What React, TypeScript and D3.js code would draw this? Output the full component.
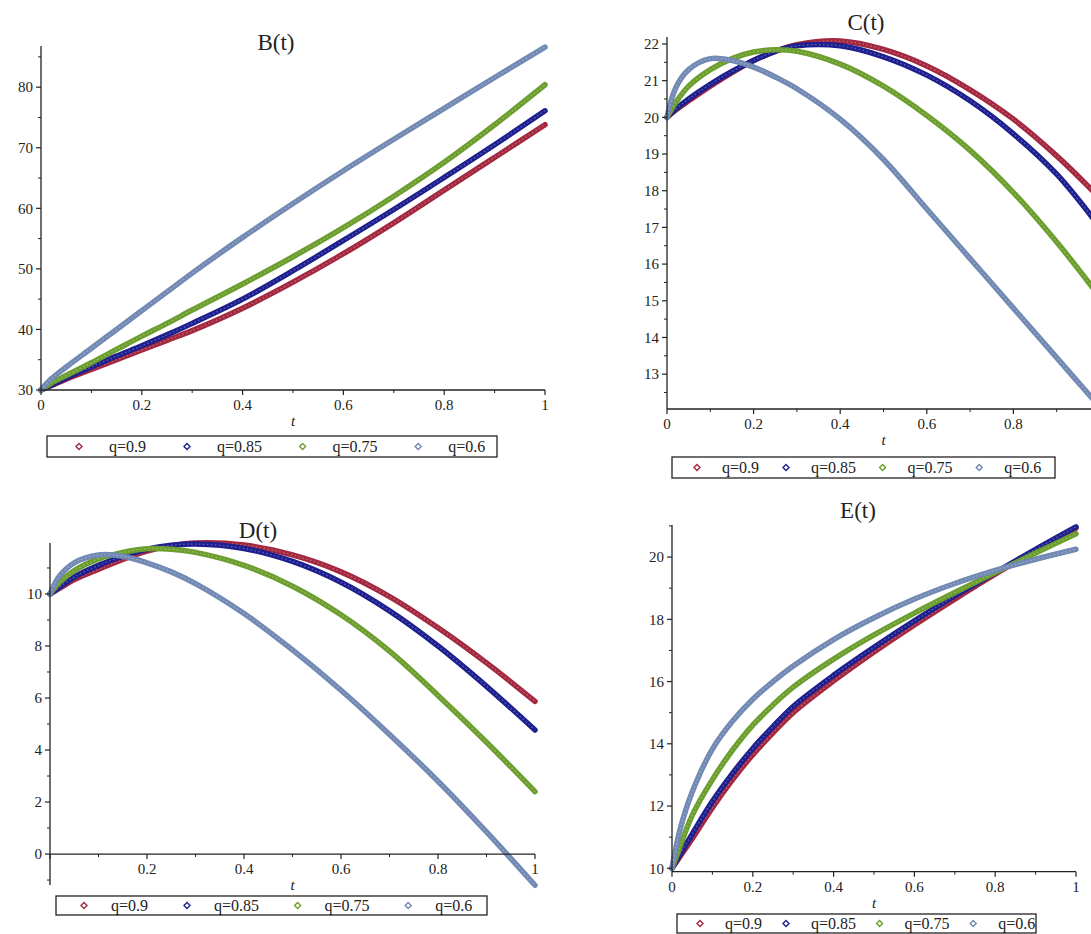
import * as d3 from "d3";

const tGrid = [0, 0.02, 0.05, 0.1, 0.15, 0.2, 0.25, 0.3, 0.4, 0.5, 0.6, 0.7, 0.8, 0.9, 1];
const qLabels = ["q=0.9", "q=0.85", "q=0.75", "q=0.6"];
const qColors = ["#a3283f", "#1d1f8f", "#6c9e2e", "#7189b3"];

// B(t)
const bQ90 = [30, 30.7, 31.8, 33.4, 35.0, 36.6, 38.2, 39.8, 43.5, 47.8, 52.5, 57.6, 63.0, 68.4, 73.8];
const bQ85 = [30, 30.8, 32.0, 33.8, 35.6, 37.3, 39.1, 41.0, 45.0, 49.7, 54.7, 59.8, 65.1, 70.5, 76.1];
const bQ75 = [30, 31.1, 32.4, 34.5, 36.7, 38.9, 41.0, 43.2, 47.5, 52.0, 56.8, 62.0, 67.6, 73.8, 80.4];
const bQ60 = [30, 31.8, 33.8, 36.9, 40.0, 43.1, 46.2, 49.3, 55.2, 60.8, 66.2, 71.4, 76.5, 81.6, 86.6];

// C(t)
const cQ90 = [20, 20.2, 20.45, 20.85, 21.22, 21.55, 21.8, 21.98, 22.08, 21.85, 21.4, 20.75, 19.95, 18.95, 17.8];
const cQ85 = [20, 20.22, 20.5, 20.9, 21.25, 21.55, 21.8, 21.95, 21.95, 21.65, 21.15, 20.45, 19.55, 18.45, 17.0];
const cQ75 = [20, 20.4, 20.85, 21.3, 21.6, 21.78, 21.84, 21.8, 21.45, 20.85, 20.05, 19.1, 17.95, 16.6, 15.1];
const cQ60 = [20, 20.8, 21.3, 21.6, 21.55, 21.37, 21.1, 20.78, 19.95, 18.85, 17.5, 16.15, 14.8, 13.45, 12.1];

// D(t)
const dQ90 = [10, 10.22, 10.55, 10.95, 11.33, 11.65, 11.85, 11.96, 11.88, 11.5, 10.85, 9.9, 8.7, 7.35, 5.87];
const dQ85 = [10, 10.27, 10.65, 11.1, 11.45, 11.72, 11.87, 11.92, 11.75, 11.25, 10.45, 9.35, 8.0, 6.45, 4.77];
const dQ75 = [10, 10.45, 10.9, 11.35, 11.6, 11.74, 11.72, 11.6, 11.1, 10.3, 9.2, 7.8, 6.1, 4.3, 2.4];
const dQ60 = [10, 10.7, 11.2, 11.5, 11.45, 11.2, 10.85, 10.4, 9.25, 7.85, 6.3, 4.6, 2.8, 0.85, -1.2];

// E(t)
const eQ90 = [10, 10.38, 10.95, 11.95, 12.85, 13.65, 14.35, 15.0, 16.02, 16.95, 17.82, 18.65, 19.45, 20.2, 20.93];
const eQ85 = [10, 10.45, 11.1, 12.15, 13.05, 13.85, 14.55, 15.2, 16.2, 17.1, 17.95, 18.75, 19.5, 20.25, 20.97];
const eQ75 = [10, 10.7, 11.7, 12.85, 13.8, 14.6, 15.25, 15.82, 16.72, 17.5, 18.2, 18.86, 19.5, 20.13, 20.75];
const eQ60 = [10, 11.25, 12.45, 13.83, 14.73, 15.43, 16.0, 16.5, 17.35, 18.05, 18.65, 19.15, 19.57, 19.93, 20.25];

const FONT = "'Liberation Serif', 'Times New Roman', serif";

const panels = [
  {
    title: "B(t)", series: [bQ90, bQ85, bQ75, bQ60],
    yDomain: [30, 86.8], xRange: [41, 545], yRange: [390, 46],
    yMajor: 10, yMinor: 5, xAxisAt: 30, skipZeroX: false,
    titleX: 276, titleY: 50,
    legend: { x: 47, y: 436, w: 450, h: 21, start: 79, mt: 30, tm: 40 },
  },
  {
    title: "C(t)", series: [cQ90, cQ85, cQ75, cQ60],
    yDomain: [12.05, 22.19], xRange: [667, 1100], yRange: [409, 37],
    yMajor: 1, yMinor: 0.5, xAxisAt: 12.05, skipZeroX: false,
    titleX: 866, titleY: 30,
    legend: { x: 672, y: 457, w: 383, h: 21, start: 697, mt: 25, tm: 26 },
  },
  {
    title: "D(t)", series: [dQ90, dQ85, dQ75, dQ60],
    yDomain: [-1.19, 11.96], xRange: [50, 535], yRange: [885, 543],
    yMajor: 2, yMinor: 1, xAxisAt: 0, skipZeroX: true,
    titleX: 258, titleY: 538,
    legend: { x: 56, y: 896, w: 431, h: 19, start: 84, mt: 27, tm: 38 },
  },
  {
    title: "E(t)", series: [eQ90, eQ85, eQ75, eQ60],
    yDomain: [9.89, 21.03], xRange: [672, 1076], yRange: [871.7, 525],
    yMajor: 2, yMinor: 1, xAxisAt: 9.89, skipZeroX: false,
    titleX: 858, titleY: 518,
    legend: { x: 677, y: 914, w: 359, h: 19, start: 700, mt: 25, tm: 23 },
  },
];

function Diamond({ x, y, r, color }) {
  return (
    <path
      d={`M${x},${y - r}L${x + r},${y}L${x},${y + r}L${x - r},${y}Z`}
      fill="#fff"
      fillOpacity={0.6}
      stroke={color}
      strokeWidth={1.4}
    />
  );
}

function Panel({ p }) {
  const x = d3.scaleLinear().domain([0, 1]).range(p.xRange);
  const y = d3.scaleLinear().domain(p.yDomain).range(p.yRange);
  const axisY = y(p.xAxisAt);
  const axisX = x(0);
  const [y0, y1] = p.yDomain;

  const line = d3
    .line<number>()
    .x((_, i) => x(tGrid[i]))
    .y((d) => y(d))
    .curve(d3.curveCatmullRom.alpha(0.5));

  const majorY = d3.range(Math.ceil(y0 / p.yMajor) * p.yMajor, y1 + 1e-9, p.yMajor);
  const minorY = d3
    .range(Math.ceil(y0 / p.yMinor) * p.yMinor, y1 + 1e-9, p.yMinor)
    .filter((v) => Math.abs(v / p.yMajor - Math.round(v / p.yMajor)) > 1e-6);
  const majorX = d3.range(0, 1.0001, 0.2);
  const minorX = d3.range(0.1, 1, 0.2);

  // legend layout, text width estimated from character count
  const lg = p.legend;
  let cur = lg.start;
  const items = qLabels.map((lab, i) => {
    const item = { mx: cur, tx: cur + lg.mt, lab, color: qColors[i] };
    cur = cur + lg.mt + lab.length * 7.6 + lg.tm;
    return item;
  });

  return (
    <g fontFamily={FONT} fill="#222">
      <text x={p.titleX} y={p.titleY} textAnchor="middle" fontSize={23}>
        {p.title}
      </text>

      {/* curves */}
      {p.series.map((s, i) => (
        <g key={i}>
          <path d={line(s)} fill="none" stroke={qColors[i]} strokeWidth={5.5} strokeLinecap="round" />
          <path
            d={line(s)}
            fill="none"
            stroke="#fff"
            strokeOpacity={0.28}
            strokeWidth={1.3}
            strokeDasharray="1.6 2.4"
          />
        </g>
      ))}

      {/* y axis */}
      <line x1={axisX} x2={axisX} y1={y(y0)} y2={y(y1)} stroke="#222" strokeWidth={1.3} />
      {majorY.map((v) => (
        <g key={"my" + v}>
          <line x1={axisX - 5} x2={axisX} y1={y(v)} y2={y(v)} stroke="#222" strokeWidth={1.2} />
          <text x={axisX - 8} y={y(v)} dy="0.35em" textAnchor="end" fontSize={15}>
            {v}
          </text>
        </g>
      ))}
      {minorY.map((v) => (
        <line key={"ny" + v} x1={axisX - 3} x2={axisX} y1={y(v)} y2={y(v)} stroke="#222" strokeWidth={1} />
      ))}

      {/* x axis */}
      <line x1={x(0)} x2={x(1)} y1={axisY} y2={axisY} stroke="#222" strokeWidth={1.3} />
      {majorX.map((v) => (
        <g key={"mx" + v}>
          <line x1={x(v)} x2={x(v)} y1={axisY} y2={axisY + 5} stroke="#222" strokeWidth={1.2} />
          {!(p.skipZeroX && v === 0) && x(v) < 1080 && (
            <text x={x(v)} y={axisY + 20} textAnchor="middle" fontSize={15}>
              {+v.toFixed(1)}
            </text>
          )}
        </g>
      ))}
      {minorX.map((v) => (
        <line key={"nx" + v} x1={x(v)} x2={x(v)} y1={axisY} y2={axisY + 3} stroke="#222" strokeWidth={1} />
      ))}
      <text
        x={(x(0) + x(1)) / 2}
        y={axisY + 36}
        textAnchor="middle"
        fontSize={15}
        fontStyle="italic"
      >
        t
      </text>

      {/* legend */}
      <rect x={lg.x} y={lg.y} width={lg.w} height={lg.h} fill="#fff" stroke="#222" strokeWidth={1.3} />
      {items.map((it) => (
        <g key={it.lab}>
          <Diamond x={it.mx} y={lg.y + lg.h / 2} r={3} color={it.color} />
          <text x={it.tx} y={lg.y + lg.h / 2} dy="0.35em" fontSize={16}>
            {it.lab}
          </text>
        </g>
      ))}
    </g>
  );
}

export default function App() {
  return (
    <svg
      width={1091}
      height={934}
      style={{ position: "absolute", left: 0, top: 0, background: "#fff" }}
    >
      <rect width={1091} height={934} fill="#fff" />
      {panels.map((p) => (
        <Panel key={p.title} p={p} />
      ))}
    </svg>
  );
}
